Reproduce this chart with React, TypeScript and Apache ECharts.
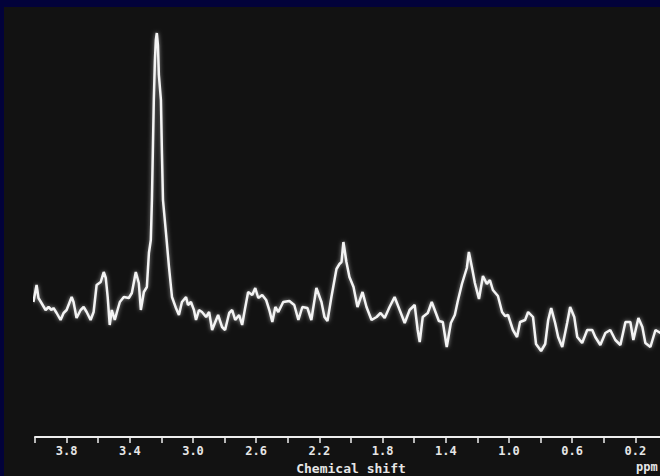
import React, { useEffect, useRef } from "react";
import * as echarts from "echarts";

// Chemical shift (ppm) of each sampled point of the spectrum trace.
const shiftPpm = [
  4.010, 3.990, 3.978, 3.959, 3.933, 3.914, 3.895, 3.883, 3.863, 3.838,
  3.819, 3.800, 3.768, 3.756, 3.737, 3.711, 3.692, 3.673, 3.648, 3.629,
  3.610, 3.584, 3.565, 3.552, 3.540, 3.527, 3.514, 3.495, 3.483, 3.463,
  3.438, 3.406, 3.387, 3.362, 3.343, 3.330, 3.311, 3.292, 3.279, 3.267,
  3.260, 3.254, 3.248, 3.241, 3.235, 3.229, 3.222, 3.216, 3.203, 3.197,
  3.190, 3.171, 3.152, 3.133, 3.108, 3.089, 3.070, 3.044, 3.032, 3.013,
  2.994, 2.981, 2.962, 2.943, 2.917, 2.898, 2.879, 2.854, 2.841, 2.816,
  2.797, 2.771, 2.752, 2.733, 2.708, 2.689, 2.670, 2.651, 2.625, 2.606,
  2.587, 2.562, 2.537, 2.517, 2.498, 2.479, 2.460, 2.429, 2.390, 2.359,
  2.333, 2.308, 2.276, 2.251, 2.219, 2.187, 2.168, 2.149, 2.124, 2.092,
  2.073, 2.060, 2.048, 2.029, 2.010, 1.984, 1.959, 1.927, 1.902, 1.870,
  1.838, 1.813, 1.787, 1.756, 1.724, 1.692, 1.660, 1.629, 1.597, 1.578,
  1.565, 1.546, 1.514, 1.489, 1.463, 1.444, 1.419, 1.394, 1.368, 1.343,
  1.324, 1.298, 1.267, 1.254, 1.235, 1.216, 1.190, 1.165, 1.140, 1.121,
  1.102, 1.070, 1.044, 1.025, 1.006, 0.975, 0.949, 0.930, 0.898, 0.879,
  0.848, 0.829, 0.797, 0.771, 0.752, 0.733, 0.708, 0.689, 0.663, 0.632,
  0.613, 0.587, 0.568, 0.537, 0.505, 0.473, 0.454, 0.422, 0.390, 0.359,
  0.327, 0.295, 0.263, 0.232, 0.213, 0.181, 0.156, 0.137, 0.105, 0.073,
  0.041, 0.010,
];

// Signal intensity (arbitrary units) at each chemical shift above.
const intensity = [
  135, 152, 139, 134, 127, 130, 127, 129, 124, 117,
  124, 127, 140, 135, 119, 127, 130, 125, 117, 125,
  152, 155, 165, 159, 140, 112, 127, 117, 124, 135,
  140, 139, 144, 165, 154, 127, 145, 150, 184, 197,
  237, 287, 337, 377, 397, 404, 392, 362, 337, 287,
  237, 204, 170, 140, 129, 122, 135, 140, 132, 135,
  127, 117, 127, 125, 120, 125, 107, 117, 122, 110,
  107, 124, 127, 117, 122, 112, 129, 145, 142, 149,
  139, 142, 137, 127, 115, 130, 125, 135, 136, 132,
  117, 130, 129, 117, 149, 135, 120, 116, 140, 168,
  173, 175, 195, 175, 160, 150, 130, 145, 130, 117,
  120, 124, 119, 130, 140, 127, 114, 127, 132, 107,
  95, 120, 124, 135, 124, 116, 115, 90, 114, 122,
  136, 153, 169, 185, 170, 154, 138, 161, 153, 157,
  147, 141, 125, 121, 122, 107, 100, 115, 117, 125,
  120, 93, 86, 93, 117, 129, 114, 100, 90, 114,
  130, 120, 100, 94, 107, 107, 100, 92, 104, 107,
  97, 92, 115, 115, 97, 119, 110, 94, 90, 107,
  104, 109,
];

// Axis settings
const shiftMin = 0;
const shiftMax = 4.0;
const tickStep = 0.2;
const axisTitle = "Chemical shift";
const unitLabel = "ppm";

const labelFont = '"DejaVu Sans Mono", monospace';

export default function App() {
  const ref = useRef<HTMLDivElement>(null);

  useEffect(() => {
    if (!ref.current) return;
    const chart = echarts.init(ref.current, undefined, { renderer: "svg" });
    const points = shiftPpm.map((p, i) => [p, intensity[i]]);

    chart.setOption({
      animation: false,
      backgroundColor: "#02023a",
      graphic: [
        {
          type: "rect",
          z: -10,
          silent: true,
          shape: { x: 4, y: 7, width: 700, height: 500 },
          style: { fill: "#121212" },
        },
        {
          type: "text",
          left: 636,
          top: 461,
          silent: true,
          style: {
            text: unitLabel,
            fill: "#e6e6e6",
            font: `bold 12px ${labelFont}`,
          },
        },
      ],
      // the plot area runs a few pixels past the visible right edge
      grid: {
        left: 35,
        right: 0,
        top: 0,
        bottom: 39,
        outerBoundsMode: "none",
        containLabel: false,
      },
      xAxis: {
        type: "value",
        min: shiftMin,
        max: shiftMax,
        interval: tickStep,
        inverse: true,
        name: axisTitle,
        nameLocation: "middle",
        nameGap: 25,
        nameTextStyle: {
          color: "#e6e6e6",
          fontFamily: labelFont,
          fontWeight: "bold",
          fontSize: 13,
        },
        axisLine: { show: true, lineStyle: { color: "#eeeeee", width: 2 } },
        axisTick: {
          show: true,
          inside: false,
          length: 6,
          lineStyle: { color: "#eeeeee", width: 1.5 },
        },
        splitLine: { show: false },
        axisLabel: {
          color: "#e6e6e6",
          fontFamily: labelFont,
          fontWeight: "bold",
          fontSize: 12,
          margin: 8,
          showMinLabel: true,
          showMaxLabel: true,
          formatter: (v: number) => {
            const k = Math.round(v * 10);
            return k % 4 === 2 ? v.toFixed(1) : "";
          },
        },
      },
      yAxis: { type: "value", min: 0, max: 437, show: false },
      series: [
        {
          type: "line",
          data: points,
          showSymbol: false,
          smooth: false,
          lineStyle: {
            color: "#f4f4f4",
            width: 2.5,
            shadowBlur: 4,
            shadowColor: "rgba(255,255,255,0.55)",
          },
        },
      ],
    });

    return () => chart.dispose();
  }, []);

  return (
    <div
      style={{
        position: "fixed",
        left: 0,
        top: 0,
        width: 660,
        height: 476,
        overflow: "hidden",
        background: "#02023a",
      }}
    >
      <div ref={ref} style={{ width: 667, height: 476 }} />
    </div>
  );
}
